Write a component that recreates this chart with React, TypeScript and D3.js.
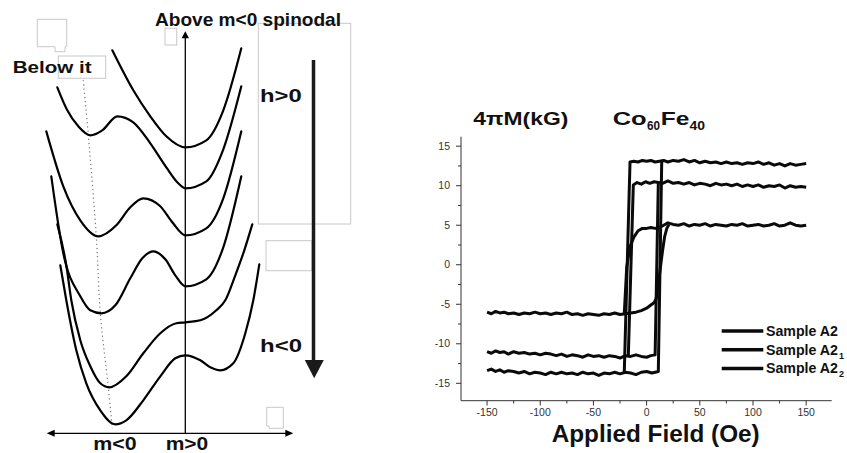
import React from 'react';
import * as d3 from 'd3';

type P = [number, number];

// ---------- Left panel: schematic free-energy curves F(m), arbitrary units ----------
const curveAbove: P[] = [[-73,383],[-52,343],[-35,317],[-19,297],[0,286],[21,293],[38,323],[56,385]];
const curveBelow: P[] = [[-128,346],[-118,323],[-107,307],[-95,298],[-83,303],[-68,317],[-52,311],[-35,290],[-19,266],[-7,250],[0,245],[21,252],[38,284],[56,347]];
const curveCoexist: P[] = [[-139,302],[-122,247],[-105,213],[-87,197],[-69,208],[-55,226],[-42,235],[-25,227],[-13,211],[0,198],[21,205],[38,235],[56,302]];
const curveNegFavoured: P[] = [[-134,257],[-122,180],[-105,137],[-95,123],[-84,120],[-70,128],[-55,155],[-43,175],[-32,182],[-20,174],[-10,158],[0,147],[21,154],[38,186],[56,257]];
const curveSpinodal: P[] = [[-128,209],[-119,168],[-114,133],[-105,93],[-95,67],[-85,50],[-76,46],[-59,57],[-42,80],[-25,100],[-9,110],[0,111],[15,113],[31,123],[40,133],[50,158],[59,183],[67,209]];
const curveBeyond: P[] = [[-125,168],[-119,133],[-109,83],[-99,50],[-85,23],[-70,9],[-59,13],[-42,33],[-25,57],[-10,75],[0,78],[15,73],[25,66],[35,63],[48,70],[60,100],[68,133],[74,169]];
const leftCurves: P[][] = [curveAbove, curveBelow, curveCoexist, curveNegFavoured, curveSpinodal, curveBeyond];
const minimaTrack: P[] = [[-102,353],[-97,298],[-89,197],[-85,120],[-77,46],[-73,5]];
const mAxisExtent: P = [-138.6, 108];
const fAxisTop = 402;
const mLabels = ['m<0', 'm>0'];

// ---------- Right panel: hysteresis loops ----------
const xTicks = [-150, -100, -50, 0, 50, 100, 150];
const xMinor = [-125, -75, -25, 25, 75, 125];
const yTicks = [15, 10, 5, 0, -5, -10, -15];
const yMinor = [12.5, 7.5, 2.5, -2.5, -7.5, -12.5];
const seriesNames = ['Sample A2', 'Sample A2', 'Sample A2'];
const seriesSubs = ['', '1', '2'];

const a2Upper: P[] = [[-21,-13.6],[-15.6,13.0],[-12,13.1],[-8,13.0],[-4,13.2],[0,13.1],[4,13.2],[8,13.0],[12,13.1],[16,13.2],[20,13.0],[25,13.2],[30,13.1],[35,13.3],[40,13.0],[45,13.2],[50,12.9],[55,13.1],[60,12.9],[65,13.0],[70,12.8],[75,13.0],[80,12.8],[85,12.9],[90,12.7],[95,12.9],[100,12.8],[105,13.0],[110,12.7],[115,12.9],[120,12.6],[125,12.8],[130,12.5],[135,12.8],[140,12.6],[145,12.7],[150,12.8]];
const a2Lower: P[] = [[-150,-13.4],[-146,-13.2],[-142,-13.5],[-138,-13.3],[-134,-13.6],[-130,-13.4],[-125,-13.5],[-120,-13.7],[-115,-13.5],[-110,-13.8],[-105,-13.6],[-100,-13.7],[-95,-13.9],[-90,-13.6],[-85,-13.8],[-80,-13.6],[-75,-13.8],[-70,-13.7],[-65,-13.9],[-60,-13.6],[-55,-13.8],[-50,-13.7],[-45,-14.0],[-40,-13.7],[-35,-13.8],[-30,-13.6],[-25,-13.8],[-20,-13.6],[-15,-13.7],[-10,-13.9],[-5,-13.6],[0,-13.5],[5,-13.7],[11,-13.5],[14.2,13.1]];
const a21Upper: P[] = [[-17.2,-11.5],[-12.5,10.1],[-9,10.4],[-5,10.2],[-1,10.5],[3,10.3],[7,10.5],[11,10.4],[15,10.3],[20,10.6],[25,10.3],[30,10.4],[35,10.2],[40,10.4],[45,10.1],[50,10.3],[55,10.2],[60,10.0],[65,10.3],[70,10.1],[75,10.2],[80,10.0],[85,10.2],[90,9.9],[95,10.1],[100,9.9],[105,10.1],[110,9.8],[115,10.0],[120,9.9],[125,10.1],[130,9.7],[135,10.0],[140,9.8],[145,9.9],[150,9.8]];
const a21Lower: P[] = [[-150,-11.0],[-146,-11.2],[-142,-10.9],[-138,-11.1],[-134,-11.0],[-130,-11.3],[-125,-11.0],[-120,-11.2],[-115,-11.1],[-110,-11.3],[-105,-11.2],[-100,-11.4],[-95,-11.2],[-90,-11.3],[-85,-11.5],[-80,-11.3],[-75,-11.6],[-70,-11.4],[-65,-11.5],[-60,-11.7],[-55,-11.4],[-50,-11.6],[-45,-11.5],[-40,-11.7],[-35,-11.5],[-30,-11.6],[-25,-11.8],[-20,-11.5],[-15,-11.6],[-10,-11.4],[-5,-11.6],[0,-11.7],[4,-11.5],[8,-11.4],[11,10.4]];
const a22Upper: P[] = [[-21,-6.2],[-18.7,-0.3],[-15.6,2.3],[-12,3.5],[-8,4.3],[-4,4.6],[0,4.6],[4,4.7],[8,4.6],[12,4.7],[16,5.0],[20,5.3],[25,5.1],[30,5.0],[35,5.2],[40,4.9],[45,5.1],[50,5.0],[55,5.2],[60,4.9],[65,5.1],[70,5.0],[75,4.9],[80,5.1],[85,5.0],[90,5.2],[95,4.9],[100,5.0],[105,5.1],[110,4.9],[115,5.0],[120,5.2],[125,4.9],[130,5.0],[135,5.3],[140,5.0],[145,4.9],[150,5.0]];
const a22Lower: P[] = [[-150,-6.0],[-146,-6.2],[-142,-5.9],[-138,-6.1],[-134,-6.0],[-130,-6.2],[-125,-6.1],[-120,-6.3],[-115,-6.1],[-110,-6.2],[-105,-6.0],[-100,-6.2],[-95,-6.1],[-90,-6.3],[-85,-6.1],[-80,-6.2],[-75,-6.0],[-70,-6.3],[-65,-6.2],[-60,-6.4],[-55,-6.2],[-50,-6.3],[-45,-6.4],[-40,-6.2],[-35,-6.3],[-30,-6.1],[-25,-6.3],[-20,-6.2],[-15,-6.1],[-10,-6.0],[-5,-5.8],[0,-5.5],[4,-5.1],[7,-4.8],[9,-4.3],[11,-2.5],[13,-0.3],[15,1.8],[17,3.6],[19,4.6],[21,5.1]];
const loopBranches: P[][] = [a2Upper, a2Lower, a21Upper, a21Lower, a22Upper, a22Lower];

const FONT = '"Liberation Sans", Arial, Helvetica, sans-serif';

export default function App() {
  const xL = d3.scaleLinear().domain([-140, 110]).range([45.3, 295.3]);
  const yL = d3.scaleLinear().domain([0, 400]).range([433.3, 33.3]);
  const lineL = d3.line<P>().x(d => xL(d[0])).y(d => yL(d[1])).curve(d3.curveMonotoneX);
  const lineDots = d3.line<P>().x(d => xL(d[0])).y(d => yL(d[1])).curve(d3.curveCatmullRom.alpha(0.5));

  const xR = d3.scaleLinear().domain([-174.5, 174]).range([461, 831.7]);
  const yR = d3.scaleLinear().domain([-17.2, 16.2]).range([400.7, 136.7]);
  const lineR = d3.line<P>().x(d => xR(d[0])).y(d => yR(d[1]));

  const ax0 = xL(0), ay0 = yL(0);
  const axL = xL(mAxisExtent[0]), axR = xL(mAxisExtent[1]), ayT = yL(fAxisTop);

  const box = '#c8c8c8';
  const bold = { fontFamily: FONT, fontWeight: 700 as const, fill: '#111' };

  return (
    <svg width={847} height={453} style={{ position: 'absolute', left: 0, top: 0, background: '#fff' }}>
      <rect width={847} height={453} fill="#fff" />
      {/* ----- left panel ----- */}
      <g fill="none" stroke={box} strokeWidth={1}>
        <path d="M37.3,19.3 H66.7 V46.7 H65 V51.7 H55 V46.7 H37.3 Z" />
        <rect x={58.3} y={56} width={47.4} height={22.3} />
        <rect x={165} y={28.3} width={11.7} height={16.7} />
        <rect x={258.3} y={23.3} width={92.4} height={200.7} />
        <rect x={266} y={240.7} width={45.7} height={30} />
        <path d="M266.7,407.3 H283.3 V428.3 H269 V426 H266.7 Z" />
      </g>
      <path d={lineDots(minimaTrack) || ''} fill="none" stroke="#777" strokeWidth={1.2} strokeDasharray="1.2,3" />
      {leftCurves.map((c, i) => (
        <path key={i} d={lineL(c) || ''} fill="none" stroke="#000" strokeWidth={2.2} strokeLinecap="round" />
      ))}
      {/* axes */}
      <line x1={ax0} x2={ax0} y1={ayT + 5} y2={ay0} stroke="#000" strokeWidth={1.3} />
      <polygon points={`${ax0},${ayT} ${ax0 - 3.7},${ayT + 7} ${ax0 + 3.7},${ayT + 7}`} fill="#000" />
      <line x1={axL + 6} x2={axR - 6} y1={ay0} y2={ay0} stroke="#000" strokeWidth={1.3} />
      <polygon points={`${axL},${ay0} ${axL + 8},${ay0 - 3.5} ${axL + 8},${ay0 + 3.5}`} fill="#000" />
      <polygon points={`${axR},${ay0} ${axR - 8},${ay0 - 3.5} ${axR - 8},${ay0 + 3.5}`} fill="#000" />
      <text x={93.3} y={450} fontSize={18} textLength={43.4} lengthAdjust="spacingAndGlyphs" {...bold}>{mLabels[0]}</text>
      <text x={165.7} y={450} fontSize={18} textLength={42.6} lengthAdjust="spacingAndGlyphs" {...bold}>{mLabels[1]}</text>
      <text x={155} y={26} fontSize={19} textLength={186} lengthAdjust="spacingAndGlyphs" {...bold}>Above m&lt;0 spinodal</text>
      <text x={12.7} y={73.3} fontSize={16.5} textLength={79} lengthAdjust="spacingAndGlyphs" {...bold}>Below it</text>
      <text x={260} y={102} fontSize={19} textLength={41.7} lengthAdjust="spacingAndGlyphs" {...bold}>h&gt;0</text>
      <text x={260} y={351.7} fontSize={19} textLength={42} lengthAdjust="spacingAndGlyphs" {...bold}>h&lt;0</text>
      {/* h arrow */}
      <line x1={313.5} x2={313.5} y1={60} y2={364} stroke="#1a1a1a" strokeWidth={3.5} />
      <polygon points="304.8,360 323.8,360 314.2,378.3" fill="#1a1a1a" />

      {/* ----- right panel ----- */}
      <g stroke="#333" strokeWidth={1} fill="none">
        <line x1={xR.range()[0]} x2={xR.range()[0]} y1={yR.range()[1]} y2={yR.range()[0]} />
        <line x1={xR.range()[0]} x2={xR.range()[1]} y1={yR.range()[0]} y2={yR.range()[0]} />
        {yTicks.map(t => <line key={'yt' + t} x1={456} x2={461} y1={yR(t)} y2={yR(t)} />)}
        {yMinor.map(t => <line key={'ym' + t} x1={458} x2={461} y1={yR(t)} y2={yR(t)} />)}
        {xTicks.map(t => <line key={'xt' + t} x1={xR(t)} x2={xR(t)} y1={400.7} y2={405.5} />)}
        {xMinor.map(t => <line key={'xm' + t} x1={xR(t)} x2={xR(t)} y1={400.7} y2={403.5} />)}
      </g>
      <g fontFamily={FONT} fontSize={10.5} fill="#333">
        {yTicks.map(t => <text key={'yl' + t} x={450} y={yR(t) + 3.7} textAnchor="end">{t}</text>)}
        {xTicks.map(t => <text key={'xl' + t} x={xR(t)} y={416} textAnchor="middle">{t}</text>)}
      </g>
      {loopBranches.map((b, i) => (
        <path key={'lb' + i} d={lineR(b) || ''} fill="none" stroke="#0a0a0a" strokeWidth={3} strokeLinejoin="round" />
      ))}
      <text x={473.3} y={125} fontSize={18.5} textLength={95} lengthAdjust="spacingAndGlyphs" {...bold}>4πM(kG)</text>
      <text x={612.7} y={125} fontSize={18.5} textLength={34} lengthAdjust="spacingAndGlyphs" {...bold}>Co</text>
      <text x={647} y={129.5} fontSize={12} textLength={13} lengthAdjust="spacingAndGlyphs" {...bold}>60</text>
      <text x={660.7} y={125} fontSize={18.5} textLength={28.6} lengthAdjust="spacingAndGlyphs" {...bold}>Fe</text>
      <text x={689.5} y={129.5} fontSize={12} textLength={15.5} lengthAdjust="spacingAndGlyphs" {...bold}>40</text>
      <text x={551.7} y={441.7} fontSize={23} textLength={208} lengthAdjust="spacingAndGlyphs" {...bold}>Applied Field (Oe)</text>
      {seriesNames.map((n, i) => {
        const ly = 331 + i * 18.7;
        return (
          <g key={'lg' + i}>
            <line x1={721.7} x2={763.3} y1={ly} y2={ly} stroke="#0a0a0a" strokeWidth={3.5} />
            <text x={766} y={ly + 5} fontSize={14.5} textLength={72} lengthAdjust="spacingAndGlyphs" {...bold}>{n}</text>
            {seriesSubs[i] && <text x={839} y={ly + 9} fontSize={9} {...bold}>{seriesSubs[i]}</text>}
          </g>
        );
      })}
    </svg>
  );
}
